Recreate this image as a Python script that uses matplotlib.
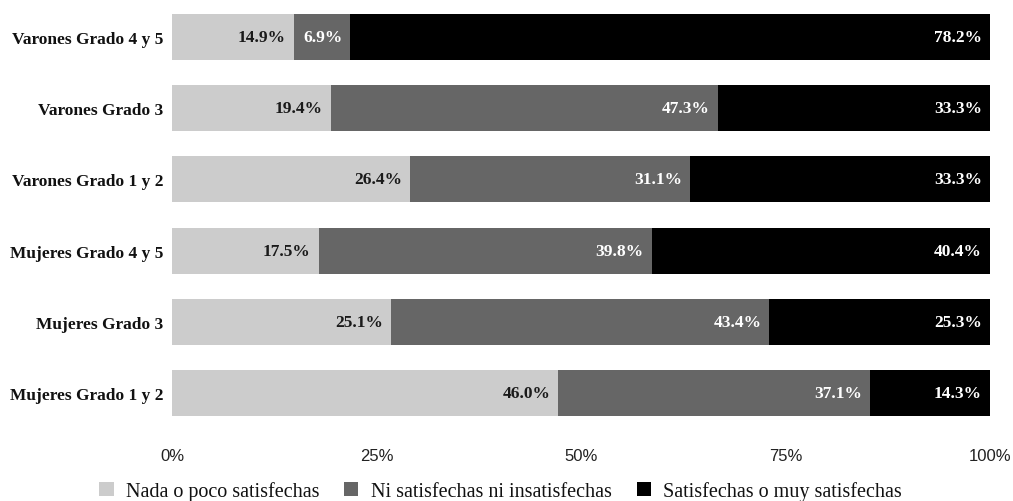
import matplotlib
matplotlib.use("Agg")
import matplotlib.pyplot as plt
import numpy as np

categories = ["Mujeres Grado 1 y 2", "Mujeres Grado 3", "Mujeres Grado 4 y 5",
              "Varones Grado 1 y 2", "Varones Grado 3", "Varones Grado 4 y 5"]
nada = [46.0, 25.1, 17.5, 26.4, 19.4, 14.9]
ni = [37.1, 43.4, 39.8, 31.1, 47.3, 6.9]
satis = [14.3, 25.3, 40.4, 33.3, 33.3, 78.2]
series_names = ["Nada o poco satisfechas", "Ni satisfechas ni insatisfechas",
                "Satisfechas o muy satisfechas"]
colors = ["#cccccc", "#666666", "#000000"]
text_colors = ["#1a1a1a", "#ffffff", "#ffffff"]
ticks = [0, 25, 50, 75, 100]
tick_labels = ["0%", "25%", "50%", "75%", "100%"]

serif = ["Liberation Serif", "DejaVu Serif"]

fig = plt.figure(figsize=(10.13, 5.02), dpi=100)
ax = fig.add_axes([172 / 1013, (502 - 429.6) / 502, (990 - 172) / 1013, 427.2 / 502])

data = np.array([nada, ni, satis])
totals = data.sum(axis=0)
shares = data / totals * 100
y = np.arange(len(categories))
left = np.zeros(len(categories))
for i in range(3):
    bars = ax.barh(y, shares[i], left=left, height=0.646, color=colors[i],
                   label=series_names[i], linewidth=0)
    for j, b in enumerate(bars):
        ax.annotate(f"{data[i][j]:.1f}%", xy=(left[j] + shares[i][j], y[j]),
                    xytext=(-8, 0), textcoords="offset pixels",
                    ha="right", va="center", color=text_colors[i],
                    fontsize=12.5, fontweight="bold", family=serif)
    left = left + shares[i]

ax.set_xlim(0, 100)
ax.set_ylim(-0.5, len(categories) - 0.5)
ax.set_yticks(y)
ax.set_yticklabels(categories, family=serif, fontweight="bold", fontsize=12.5,
                   color="#111111")
ax.set_xticks(ticks)
ax.set_xticklabels(tick_labels, family=["Liberation Sans", "DejaVu Sans"], fontsize=12,
                   color="#222222")
ax.tick_params(axis="x", length=0, pad=14)
ax.tick_params(axis="y", length=0, pad=6)
for s in ax.spines.values():
    s.set_visible(False)

fig.legend(loc="center", bbox_to_anchor=(500.5 / 1013, 1 - 492 / 502), ncol=3, frameon=False,
           prop={"family": serif, "size": 14.5}, handlelength=0.7, handleheight=0.7,
           handletextpad=0.6, columnspacing=1.25, borderaxespad=0, labelcolor="#111111")

fig.savefig("out.png", dpi=100)
